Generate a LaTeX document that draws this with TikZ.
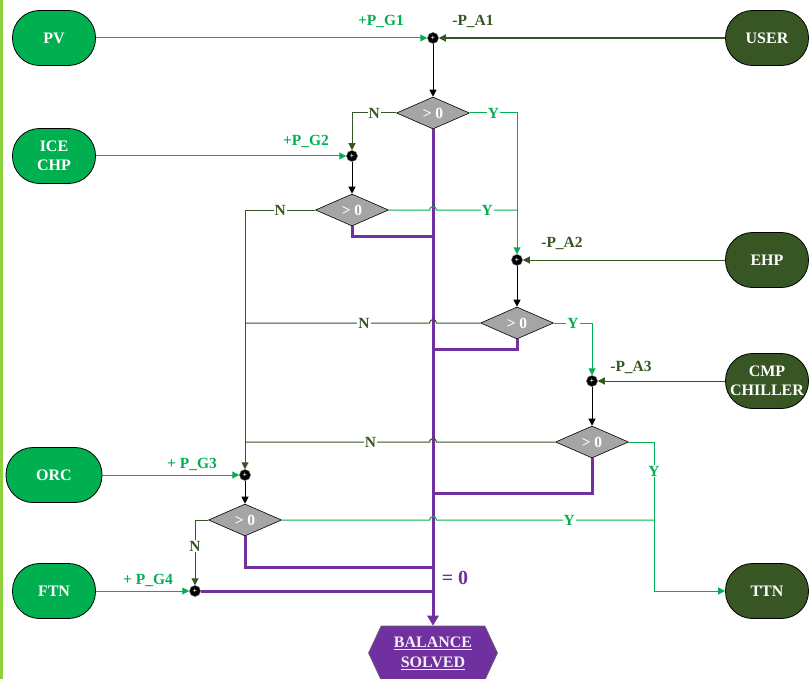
\documentclass[tikz,border=0pt]{standalone}
\usepackage{fontspec}
\setmainfont{Liberation Serif}
\usetikzlibrary{shapes.geometric,shapes.symbols,arrows.meta,calc}
\definecolor{gr}{HTML}{00B050}
\definecolor{dg}{HTML}{375623}
\definecolor{pu}{HTML}{7030A0}
\definecolor{gy}{HTML}{A5A5A5}
\definecolor{lime}{HTML}{8CD23C}
\begin{document}
\begin{tikzpicture}[x=1pt,y=-1pt,
  font=\fontsize{15.5}{17}\selectfont\bfseries,
  termbase/.style={draw=black,line width=0.8pt,rounded corners=27pt,minimum width=83pt,minimum height=55pt,inner sep=0pt,text=white,align=center,font=\fontsize{16}{19}\selectfont\bfseries},
  gterm/.style={termbase,fill=gr},
  dterm/.style={termbase,fill=dg},
  sumpt/.style={circle,fill=black,draw=black!60,line width=0.5pt,minimum size=11pt,inner sep=0pt,text=white,font=\fontsize{8}{8}\selectfont\bfseries},
  decbox/.style={diamond,draw=black,line width=0.6pt,fill=gy,minimum width=73pt,minimum height=32pt,inner sep=0pt,text=white},
  gline/.style={draw=gr,line width=1pt},
  dline/.style={draw=dg,line width=1pt},
  bline/.style={draw=black,line width=1pt},
  pline/.style={draw=pu,line width=3pt},
  arr/.style={-{Triangle[length=7pt,width=7pt]}},
  parr/.style={-{Triangle[length=10pt,width=11pt]}},
  glab/.style={text=gr},
  dlab/.style={text=dg},
  ynlab/.style={fill=white,inner sep=1pt},
]
\useasboundingbox (0,0) rectangle (810,679);
\fill[lime] (0,0) rectangle (2.5,679);

% terminals
\node[gterm] (pv) at (54,38) {PV};
\node[gterm] (ice) at (54,156) {ICE\\CHP};
\node[gterm,minimum width=96pt] (orc) at (54,475) {ORC};
\node[gterm] (ftn) at (54,591) {FTN};
\node[dterm] (user) at (767,38) {USER};
\node[dterm] (ehp) at (767,260) {EHP};
\node[dterm] (cmp) at (767,381) {CMP\\CHILLER};
\node[dterm] (ttn) at (767,591) {TTN};

% summing junctions
\node[sumpt] (s1) at (433,38) {+};
\node[sumpt] (s2) at (352,156) {+};
\node[sumpt] (s3) at (517,260) {+};
\node[sumpt] (s4) at (592,381) {+};
\node[sumpt] (s5) at (245,475) {+};
\node[sumpt] (s6) at (195,591) {+};

% decisions
\node[decbox] (d1) at (433,113) {> 0};
\node[decbox] (d2) at (352,210) {> 0};
\node[decbox] (d3) at (517,323) {> 0};
\node[decbox] (d4) at (592,442) {> 0};
\node[decbox] (d5) at (245,520) {> 0};

% balance
\node[signal,signal to=east and west,signal pointer angle=130,fill=pu,draw=black!60,line width=0.6pt,minimum width=129pt,minimum height=54pt,inner sep=0pt,text=white!92!pu,align=center,font=\fontsize{16}{20}\selectfont\bfseries] (bal) at (433,653) {\underline{BALANCE}\\\underline{SOLVED}};

\coordinate (busx) at (433,0);
\coordinate (ttnx) at (654,0);
\coordinate (j2) at (433,236);
\coordinate (j3) at (433,349);
\coordinate (j4) at (433,493);
\coordinate (j5) at (433,567);
\coordinate (j6) at (433,591);

% purple balance bus
\draw[pline] (d2.south) |- (j2);
\draw[pline] (d3.south) |- (j3);
\draw[pline] (d4.south) |- (j4);
\draw[pline] (d5.south) |- (j5);
\draw[pline] (s6.east) -- (j6);
\draw[pline,parr] (d1.south) -- (bal.north);
\node[text=pu,font=\fontsize{20}{20}\selectfont\bfseries] (eq) at (455,578) {= 0};

% inputs
\draw[gline,arr] (pv) -- (s1);
\draw[dline,line width=1.3pt,arr] (user) -- (s1);
\draw[gline,arr] (ice) -- (s2);
\draw[dline,arr] (ehp) -- (s3);
\draw[dline,arr] (cmp) -- (s4);
\draw[gline,arr] (orc) -- (s5);
\draw[gline,arr] (ftn) -- (s6);

\node[glab] (lg1) at (381,21) {+P\_G1};
\node[dlab] (la1) at (473,21) {-P\_A1};
\node[glab] (lg2) at (306,141) {+P\_G2};
\node[dlab] (la2) at (562,243) {-P\_A2};
\node[dlab] (la3) at (631,367) {-P\_A3};
\node[glab] (lg3) at (192,464) {+ P\_G3};
\node[glab] (lg4) at (148,580) {+ P\_G4};

% sum to decision
\draw[bline,arr] (s1) -- (d1);
\draw[bline,arr] (s2) -- (d2);
\draw[bline,arr] (s3) -- (d3);
\draw[bline,arr] (s4) -- (d4);
\draw[bline,arr] (s5) -- (d5);

% D1
\draw[dline,arr] (d1.west) -| node[ynlab,dlab,pos=0.25] {N} (s2);
\draw[gline,arr] (d1.east) -| node[ynlab,glab,pos=0.25] {Y} (s3);
% D2
\draw[dline,arr] (d2.west) -| node[ynlab,dlab,pos=0.25] {N} (s5);
\draw[gline] (d2.east) -- ($(busx |- d2.east)+(-3.5,0)$) arc[start angle=180,end angle=0,radius=3.5pt]
  -- node[ynlab,glab,pos=0.63] {Y} (s3.north |- d2.east);
% D3
\draw[dline] (d3.west) -- ($(busx |- d3.west)+(3.5,0)$) arc[start angle=0,end angle=180,radius=3.5pt]
  -- node[ynlab,dlab,pos=0.355] {N} (s5.north |- d3.west);
\draw[gline,arr] (d3.east) -| node[ynlab,glab,pos=0.25] {Y} (s4);
% D4
\draw[dline] (d4.west) -- ($(busx |- d4.west)+(3.5,0)$) arc[start angle=0,end angle=180,radius=3.5pt]
  -- node[ynlab,dlab,pos=0.32] {N} (s5.north |- d4.west);
\draw[gline,arr] (d4.east) -- (ttnx |- d4.east) -- node[ynlab,glab,pos=0.195] {Y} (ttnx |- ttn.west) -- (ttn.west);
% D5
\draw[gline] (d5.east) -- ($(busx |- d5.east)+(-3.5,0)$) arc[start angle=180,end angle=0,radius=3.5pt]
  -- node[ynlab,glab,pos=0.61] {Y} (ttnx |- d5.east);
\draw[dline,arr] (d5.west) -| node[ynlab,dlab,pos=0.7] {N} (s6);
\end{tikzpicture}
\end{document}
